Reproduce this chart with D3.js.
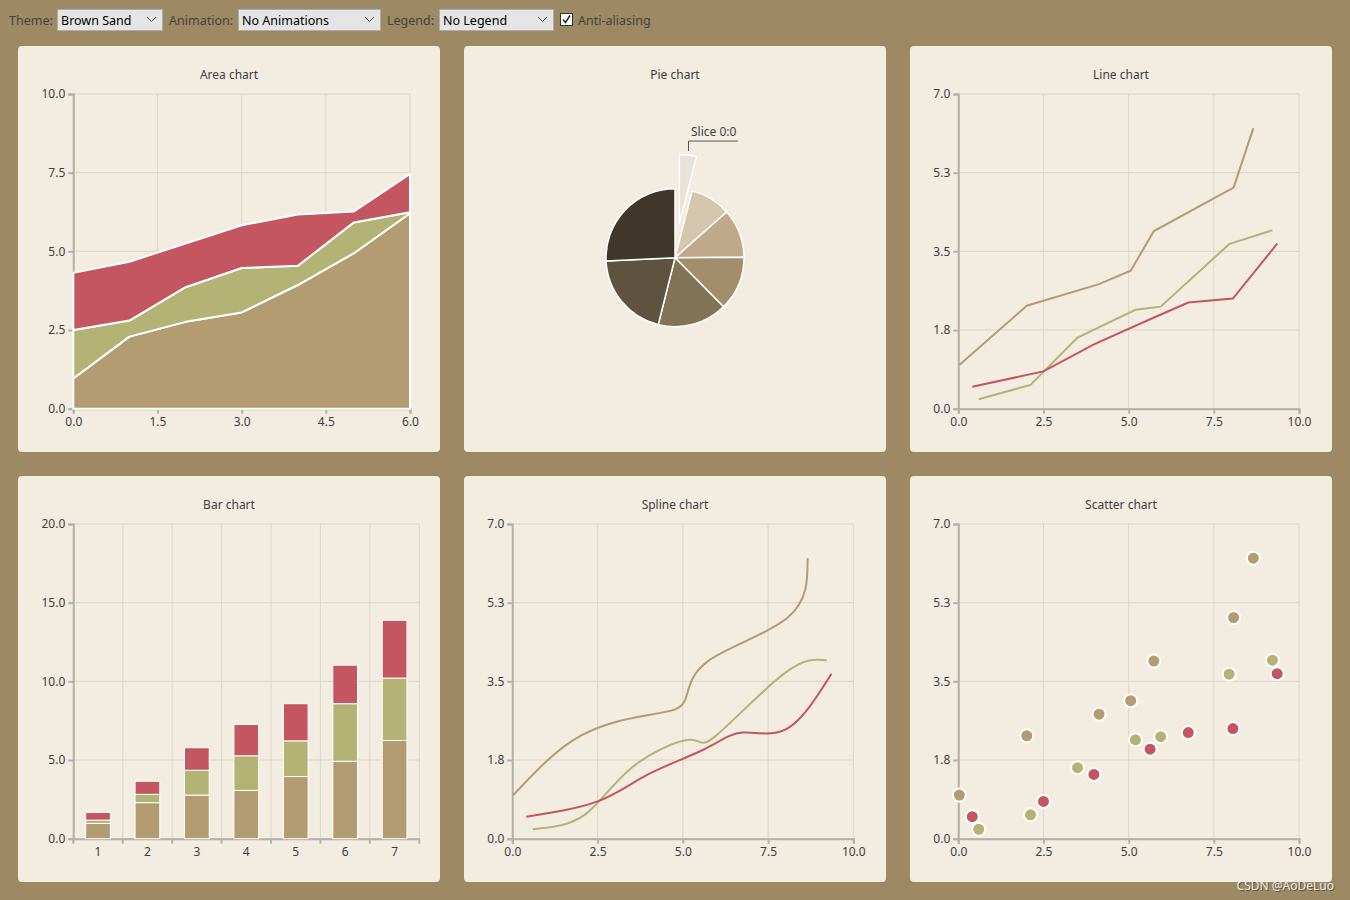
<!DOCTYPE html>
<html><head><meta charset="utf-8">
<script src="https://cdn.jsdelivr.net/npm/d3@7"></script>
<style>
html,body{margin:0;padding:0;background:#9e8965;}
svg{display:block;}
text{font-family:"Noto Sans","Open Sans",sans-serif;}
</style></head>
<body>
<svg id="c" width="1350" height="900"></svg>
<script>
// ---------------- data ----------------
const brownX = [0.03, 2.01, 4.13, 5.06, 5.74, 8.08, 8.66];
const brownY = [0.97, 2.29, 2.77, 3.07, 3.95, 4.92, 6.24];
const greenX = [0.60, 2.12, 3.50, 5.20, 5.94, 7.95, 9.22];
const greenY = [0.21, 0.53, 1.58, 2.20, 2.27, 3.66, 3.97];
const redX   = [0.41, 2.50, 3.98, 5.63, 6.75, 8.06, 9.36];
const redY   = [0.49, 0.83, 1.43, 1.99, 2.36, 2.45, 3.67];

const areaX      = [0, 1, 2, 3, 4, 5, 6];
const areaBrown  = [0.96, 2.29, 2.76, 3.06, 3.93, 4.94, 6.21];
const areaGreen  = [2.50, 2.80, 3.86, 4.47, 4.54, 5.92, 6.24];
const areaRed    = [4.32, 4.67, 5.25, 5.83, 6.17, 6.27, 7.46];

const barCategories = ["1", "2", "3", "4", "5", "6", "7"];
const barBrown = [0.97, 2.29, 2.77, 3.07, 3.95, 4.92, 6.24];
const barGreen = [0.21, 0.53, 1.58, 2.20, 2.27, 3.66, 3.97];
const barRed   = [0.49, 0.83, 1.43, 1.99, 2.36, 2.45, 3.67];

const pieLabels = ["Slice 0:0", "Slice 0:1", "Slice 0:2", "Slice 0:3", "Slice 0:4", "Slice 0:5", "Slice 0:6"];
const pieValues = [0.97, 2.29, 2.77, 3.07, 3.95, 4.92, 6.24];

const areaXTicks = [0, 1.5, 3.0, 4.5, 6.0];
const areaYTicks = [0, 2.5, 5.0, 7.5, 10.0];
const xyXTicks = [0, 2.5, 5.0, 7.5, 10.0];
const xyYTicks = [0, 1.75, 3.5, 5.25, 7.0];
const xyYTickLabels = ["0.0", "1.8", "3.5", "5.3", "7.0"];
const barYTicks = [0, 5, 10, 15, 20];

const titles = ["Area chart", "Pie chart", "Line chart", "Bar chart", "Spline chart", "Scatter chart"];

// ---------------- style ----------------
const C = {
  bg: "#9e8965", panel: "#f3ece0", grid: "#dcd5c9", axis: "#b5b0a7", text: "#404044",
  brown: "#b39b72", green: "#b3b376", red: "#c35660"
};
const pieColors = ["#e8e3d9", "#d5c6ae", "#bfa98a", "#a28d6c", "#837356", "#5e533f", "#40372a"];

const svg = d3.select("#c");

// ---------------- toolbar ----------------
const tb = svg.append("g");
function label(x, t) {
  tb.append("text").attr("x", x).attr("y", 25).attr("font-size", 12.5).attr("fill", "#48413a").text(t);
}
function combo(x, w, t) {
  tb.append("rect").attr("x", x + 0.5).attr("y", 9.5).attr("width", w).attr("height", 21)
    .attr("fill", "#e5e5e5").attr("stroke", "#adadad");
  tb.append("text").attr("x", x + 4).attr("y", 25).attr("font-size", 12.5).attr("fill", "#000").text(t);
  tb.append("path").attr("d", `M${x + w - 15},17 L${x + w - 10.5},21.5 L${x + w - 6},17`)
    .attr("fill", "none").attr("stroke", "#444").attr("stroke-width", 1);
}
label(9, "Theme:");
combo(57, 105, "Brown Sand");
label(169, "Animation:");
combo(238, 142, "No Animations");
label(387, "Legend:");
combo(439, 114, "No Legend");
tb.append("rect").attr("x", 560.5).attr("y", 13.5).attr("width", 12).attr("height", 12)
  .attr("fill", "#fff").attr("stroke", "#333");
tb.append("path").attr("d", "M563,19.5 L565.5,22.5 L570,15.5").attr("fill", "none").attr("stroke", "#222").attr("stroke-width", 1.4);
label(578, "Anti-aliasing");

// ---------------- panels ----------------
const panelX = [18, 464, 910], panelY = [46, 476], PW = 422, PH = 406;
titles.forEach((t, i) => {
  const px = panelX[i % 3], py = panelY[Math.floor(i / 3)];
  svg.append("rect").attr("x", px).attr("y", py).attr("width", PW).attr("height", PH)
    .attr("rx", 4).attr("fill", C.panel);
  svg.append("text").attr("x", px + PW / 2).attr("y", py + 33).attr("text-anchor", "middle")
    .attr("font-size", 12).attr("fill", C.text).text(t);
});

// generic axes frame
function frame(g, xs, ys, xTicks, yTicks, yLabels, xFmt) {
  const [x0, x1] = xs.range(), [y0, y1] = ys.range(); // y0 bottom, y1 top
  xTicks.forEach(v => g.append("line").attr("x1", xs(v)).attr("x2", xs(v)).attr("y1", y0).attr("y2", y1)
    .attr("stroke", C.grid).attr("stroke-width", 1));
  yTicks.forEach(v => g.append("line").attr("x1", x0).attr("x2", x1).attr("y1", ys(v)).attr("y2", ys(v))
    .attr("stroke", C.grid).attr("stroke-width", 1));
  const yAxis = d3.axisLeft(ys).tickValues(yTicks).tickSize(5).tickFormat((d, i) => yLabels[i]);
  const gy = g.append("g").attr("transform", `translate(${x0},0)`).call(yAxis);
  const xAxis = d3.axisBottom(xs).tickValues(xTicks).tickSize(5).tickFormat(xFmt);
  const gx = g.append("g").attr("transform", `translate(0,${y0})`).call(xAxis);
  [gx, gy].forEach(a => {
    a.select(".domain").attr("stroke", C.axis).attr("stroke-width", 2);
    a.selectAll(".tick line").attr("stroke", C.axis).attr("stroke-width", 2);
    a.selectAll("text").attr("fill", C.text).attr("font-size", 12)
      .attr("font-family", '"Noto Sans","Open Sans",sans-serif');
  });
  gy.selectAll("text").attr("x", -8);
  gx.selectAll("text").attr("y", 8.5);
  return {gx, gy};
}

const f1 = d3.format(".1f");

// ---------------- Area chart ----------------
{
  const g = svg.append("g");
  const xs = d3.scaleLinear().domain([0, 6]).range([73.3, 410]);
  const ys = d3.scaleLinear().domain([0, 10]).range([408.7, 94]);
  frame(g, xs, ys, areaXTicks, areaYTicks, areaYTicks.map(f1), f1);
  const layers = [
    {lo: areaX.map(() => 0), hi: areaBrown, c: C.brown},
    {lo: areaBrown, hi: areaGreen, c: C.green},
    {lo: areaGreen, hi: areaRed, c: C.red}
  ];
  layers.forEach(L => {
    const area = d3.area().x((d, i) => xs(areaX[i])).y0((d, i) => ys(L.lo[i])).y1((d, i) => ys(L.hi[i]));
    g.append("path").datum(areaX).attr("d", area).attr("fill", L.c).attr("stroke", "#fff")
      .attr("stroke-width", 2).attr("stroke-linejoin", "round");
  });
}

// ---------------- Pie chart ----------------
{
  const g = svg.append("g");
  const cx = 675, cy = 257.7, r = 69;
  const pie = d3.pie().sort(null).value(d => d);
  const arcs = pie(pieValues);
  const arc = d3.arc().innerRadius(0).outerRadius(r);
  arcs.forEach((a, i) => {
    const mid = (a.startAngle + a.endAngle) / 2;
    const off = i === 0 ? r * 0.5 : 0;
    const dx = Math.sin(mid) * off, dy = -Math.cos(mid) * off;
    g.append("path").attr("d", arc(a)).attr("transform", `translate(${cx + dx},${cy + dy})`)
      .attr("fill", pieColors[i]).attr("stroke", "#fff").attr("stroke-width", 1.5).attr("stroke-linejoin", "round");
    if (i === 0) {
      const rs = r * 1.5 + 4, arm = 10;
      const sx = cx + Math.sin(mid) * rs, sy = cy - Math.cos(mid) * rs;
      const ex = sx, ey = sy - arm;
      const t = g.append("text").attr("x", ex + 2.5).attr("y", ey - 5).attr("font-size", 12)
        .attr("fill", C.text).text(pieLabels[0]);
      const w = t.node().getComputedTextLength();
      g.append("path").attr("d", `M${sx},${sy} L${ex},${ey} L${ex + w + 4},${ey}`)
        .attr("fill", "none").attr("stroke", "#555").attr("stroke-width", 1);
    }
  });
}

// ---------------- XY charts ----------------
const seriesList = [
  {x: brownX, y: brownY, c: C.brown},
  {x: greenX, y: greenY, c: C.green},
  {x: redX, y: redY, c: C.red}
];
function xyChart(x0, x1, y0, y1, kind) {
  const g = svg.append("g");
  const xs = d3.scaleLinear().domain([0, 10]).range([x0, x1]);
  const ys = d3.scaleLinear().domain([0, 7]).range([y0, y1]);
  frame(g, xs, ys, xyXTicks, xyYTicks, xyYTickLabels, f1);
  seriesList.forEach(s => {
    const pts = s.x.map((v, i) => [v, s.y[i]]);
    if (kind === "scatter") {
      g.selectAll(null).data(pts).enter().append("circle")
        .attr("cx", d => xs(d[0])).attr("cy", d => ys(d[1])).attr("r", 6.5)
        .attr("fill", s.c).attr("stroke", "#fff").attr("stroke-width", 2);
    } else {
      const line = d3.line().x(d => xs(d[0])).y(d => ys(d[1]))
        .curve(kind === "spline" ? d3.curveNatural : d3.curveLinear);
      g.append("path").datum(pts).attr("d", line).attr("fill", "none").attr("stroke", s.c)
        .attr("stroke-width", 2);
    }
  });
}
xyChart(958.3, 1299, 408.7, 94, "line");
xyChart(512.3, 853.3, 838.7, 524, "spline");
xyChart(958.3, 1299, 838.7, 524, "scatter");

// ---------------- Bar chart ----------------
{
  const g = svg.append("g");
  const xs = d3.scaleBand().domain(barCategories).range([73.3, 419.3]).padding(0);
  const ys = d3.scaleLinear().domain([0, 20]).range([838.7, 524]);
  const bw = xs.bandwidth();
  const bounds = barCategories.map(c => xs(c)).concat([xs.range()[1]]);
  bounds.forEach(b => g.append("line").attr("x1", b).attr("x2", b).attr("y1", 838.7).attr("y2", 524)
    .attr("stroke", C.grid));
  barYTicks.forEach(v => g.append("line").attr("x1", 73.3).attr("x2", 419.3).attr("y1", ys(v)).attr("y2", ys(v))
    .attr("stroke", C.grid));
  const gy = g.append("g").attr("transform", "translate(73.3,0)")
    .call(d3.axisLeft(ys).tickValues(barYTicks).tickSize(5).tickFormat(f1));
  const gx = g.append("g").attr("transform", "translate(0,838.7)")
    .call(d3.axisBottom(xs).tickSize(0));
  gx.selectAll(".tick text").attr("y", 8.5);
  bounds.forEach(b => gx.append("line").attr("x1", b).attr("x2", b).attr("y1", 0).attr("y2", 5)
    .attr("stroke", C.axis).attr("stroke-width", 2));
  [gx, gy].forEach(a => {
    a.select(".domain").attr("stroke", C.axis).attr("stroke-width", 2);
    a.selectAll(".tick line").attr("stroke", C.axis).attr("stroke-width", 2);
    a.selectAll("text").attr("fill", C.text).attr("font-size", 12)
      .attr("font-family", '"Noto Sans","Open Sans",sans-serif');
  });
  gy.selectAll("text").attr("x", -8);
  const sets = [{v: barBrown, c: C.brown}, {v: barGreen, c: C.green}, {v: barRed, c: C.red}];
  barCategories.forEach((cat, j) => {
    let base = 0;
    sets.forEach(s => {
      const top = base + s.v[j];
      g.append("rect").attr("x", xs(cat) + bw * 0.25).attr("width", bw * 0.5)
        .attr("y", ys(top)).attr("height", ys(base) - ys(top))
        .attr("fill", s.c).attr("stroke", "#fff").attr("stroke-width", 1);
      base = top;
    });
  });
}

// ---------------- watermark ----------------
svg.append("text").attr("x", 1334).attr("y", 890).attr("text-anchor", "end").attr("font-size", 12)
  .attr("fill", "#3a3226").attr("opacity", 0.6).attr("transform", "translate(1,1)").text("CSDN @AoDeLuo");
svg.append("text").attr("x", 1334).attr("y", 890).attr("text-anchor", "end").attr("font-size", 12)
  .attr("fill", "#f0ece4").text("CSDN @AoDeLuo");
</script>
</body></html>
